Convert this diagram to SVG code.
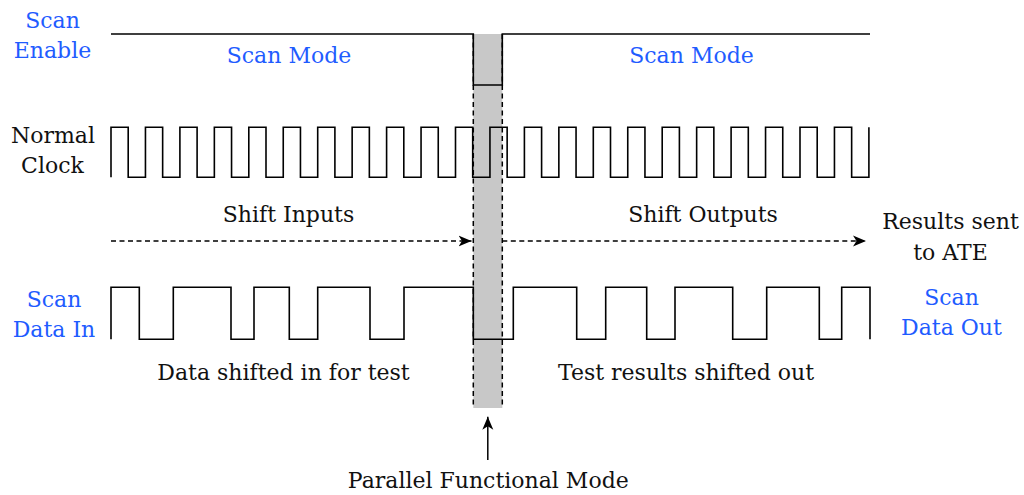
<svg xmlns="http://www.w3.org/2000/svg" width="1024" height="495" viewBox="0 0 1024 495">
  <style>
    .t { font-family: "DejaVu Serif", "Liberation Serif", serif; font-size: 22px; fill: #111111; text-anchor: middle; }
    .b { fill: #1f5cff; }
    .w { fill: none; stroke: #000000; stroke-width: 1.6; stroke-linejoin: miter; }
    .d { fill: none; stroke: #000000; stroke-width: 1.5; stroke-dasharray: 5 3.5; }
  </style>
  <defs>
    <marker id="ah" markerUnits="userSpaceOnUse" markerWidth="14" markerHeight="12" refX="13" refY="6" orient="auto">
      <path d="M0,0.5 L13,6 L0,11.5 L3.5,6 Z" fill="#000000"/>
    </marker>
  </defs>
  <rect width="1024" height="495" fill="#ffffff"/>

  <g id="parallel-window">
    <rect x="473.3" y="34" width="29" height="374" fill="#c8c8c8"/>
    <line class="d" x1="473.3" y1="34" x2="473.3" y2="408"/>
    <line class="d" x1="502.3" y1="34" x2="502.3" y2="408"/>
  </g>

  <g id="scan-enable">
    <path class="w" d="M111,34 H473.3 V85 H502.3 V34 H870"/>
    <text class="t b" x="52.5" y="27.7">Scan</text>
    <text class="t b" x="52.5" y="58.3">Enable</text>
    <text class="t b" x="289" y="63">Scan Mode</text>
    <text class="t b" x="691.5" y="63">Scan Mode</text>
  </g>

  <g id="normal-clock">
    <path class="w" d="M111,177.3 V127.3 H128.2 V177.3 H145.45 V127.3 H162.65 V177.3 H179.9 V127.3 H197.1 V177.3 H214.35 V127.3 H231.55 V177.3 H248.8 V127.3 H266 V177.3 H283.25 V127.3 H300.45 V177.3 H317.7 V127.3 H334.9 V177.3 H352.15 V127.3 H369.35 V177.3 H386.6 V127.3 H403.8 V177.3 H421.05 V127.3 H438.25 V177.3 H455.5 V127.3 H472.7 V177.3 H489.95 V127.3 H507.15 V177.3 H524.4 V127.3 H541.6 V177.3 H558.85 V127.3 H576.05 V177.3 H593.3 V127.3 H610.5 V177.3 H627.75 V127.3 H644.95 V177.3 H662.2 V127.3 H679.4 V177.3 H696.65 V127.3 H713.85 V177.3 H731.1 V127.3 H748.3 V177.3 H765.55 V127.3 H782.75 V177.3 H800 V127.3 H817.2 V177.3 H834.45 V127.3 H851.65 V177.3 H868.9 V127.3"/>
    <text class="t" x="53" y="143.3">Normal</text>
    <text class="t" x="52.5" y="173.3">Clock</text>
  </g>

  <g id="shift-labels">
    <text class="t" x="288.5" y="222">Shift Inputs</text>
    <text class="t" x="703" y="222">Shift Outputs</text>
    <text class="t" x="950.5" y="229.3">Results sent</text>
    <text class="t" x="950.5" y="260">to ATE</text>
  </g>

  <g id="scan-data">
    <path class="w" d="M111,339.3 V287.3 H139.3 V339.3 H173.3 V287.3 H231 V339.3 H254 V287.3 H289.3 V339.3 H317.7 V287.3 H370 V339.3 H404 V287.3 H473.3 V339.3 H513.3 V287.3 H576.7 V339.3 H605.7 V287.3 H646.7 V339.3 H675 V287.3 H732.7 V339.3 H766.7 V287.3 H819.3 V339.3 H841.7 V287.3 H870 V339.3"/>
    <text class="t b" x="54" y="307.3">Scan</text>
    <text class="t b" x="54" y="337.3">Data In</text>
    <text class="t b" x="951.5" y="305">Scan</text>
    <text class="t b" x="951.5" y="335">Data Out</text>
    <text class="t" x="283.5" y="380">Data shifted in for test</text>
    <text class="t" x="686" y="380">Test results shifted out</text>
  </g>

  <g id="functional-mode">
    <text class="t" x="488.3" y="488.3">Parallel Functional Mode</text>
  </g>

  <g id="connectors">
    <line class="d" x1="111" y1="241" x2="471.5" y2="241" marker-end="url(#ah)"/>
    <line class="d" x1="502.3" y1="241" x2="866" y2="241" marker-end="url(#ah)"/>
    <line x1="487.8" y1="460" x2="487.8" y2="416.7" stroke="#000000" stroke-width="1.5" marker-end="url(#ah)"/>
  </g>
</svg>
